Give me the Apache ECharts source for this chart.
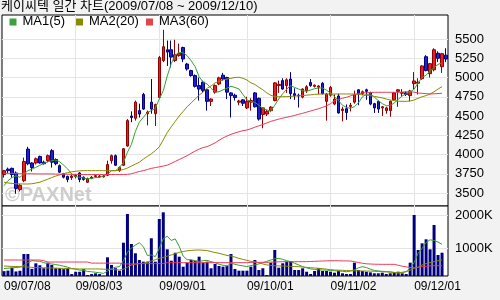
<!DOCTYPE html>
<html><head><meta charset="utf-8">
<script src="https://cdn.jsdelivr.net/npm/echarts@6/dist/echarts.min.js"></script>
<style>html,body{margin:0;padding:0;background:#f2f2f2}#c{width:500px;height:300px}</style>
</head><body><div id="c"></div>
<script>
const dates = [
'09/07/08','09/07/09','09/07/10','09/07/13','09/07/14','09/07/15','09/07/16','09/07/17','09/07/20','09/07/21','09/07/22','09/07/23','09/07/24','09/07/27','09/07/28','09/07/29','09/07/30','09/07/31',
'09/08/03','09/08/04','09/08/05','09/08/06','09/08/07','09/08/10','09/08/11','09/08/12','09/08/13','09/08/14','09/08/17','09/08/18','09/08/19','09/08/20','09/08/21','09/08/24','09/08/25','09/08/26','09/08/27','09/08/28','09/08/31',
'09/09/01','09/09/02','09/09/03','09/09/04','09/09/07','09/09/08','09/09/09','09/09/10','09/09/11','09/09/14','09/09/15','09/09/16','09/09/17','09/09/18','09/09/21','09/09/22','09/09/23','09/09/24','09/09/25','09/09/28','09/09/29','09/09/30',
'09/10/01','09/10/05','09/10/06','09/10/07','09/10/08','09/10/09','09/10/12','09/10/13','09/10/14','09/10/15','09/10/16','09/10/19','09/10/20','09/10/21','09/10/22','09/10/23','09/10/26','09/10/27','09/10/28','09/10/29','09/10/30',
'09/11/02','09/11/03','09/11/04','09/11/05','09/11/06','09/11/09','09/11/10','09/11/11','09/11/12','09/11/13','09/11/16','09/11/17','09/11/18','09/11/19','09/11/20','09/11/23','09/11/24','09/11/25','09/11/26','09/11/27','09/11/30',
'09/12/01','09/12/02','09/12/03','09/12/04','09/12/07','09/12/08','09/12/09','09/12/10','09/12/11'];

const open = [3740,3810,3820,3760,3545,3660,4070,3890,3890,3975,3900,3920,4050,3935,3855,3750,3715,3700,3715,3760,
3705,3640,3690,3715,3710,3710,3730,3920,3985,3790,3860,4110,4500,4470,4570,4780,4530,4680,4530,4740,
5220,5360,5360,5220,5285,5390,5175,5090,5025,4895,4940,4840,4690,4810,4915,5030,5000,4800,4770,4680,
4710,4605,4680,4800,4730,4520,4525,4570,4700,4895,4960,4895,4980,4790,4770,4745,4830,4935,4885,4875,
4925,4690,4770,4655,4760,4570,4595,4625,4680,4840,4790,4840,4800,4660,4690,4605,4570,4570,4710,4820,
4795,4800,4765,4920,4925,4985,5270,5050,5100,5315,5140,5290];
const close = [3790,3790,3740,3560,3600,3910,3880,3830,3945,3890,3880,3985,3900,3880,3770,3705,3675,3720,3730,3675,
3675,3685,3705,3725,3720,3720,3870,3985,3860,3830,4075,4440,4480,4680,4525,4590,4550,4590,4650,5260,
5400,5330,5265,5295,5315,5240,5110,5025,4885,4850,4830,4690,4720,4895,4995,4980,4810,4765,4740,4695,
4665,4690,4700,4620,4460,4605,4560,4615,4930,4910,4850,4970,4790,4765,4760,4850,4880,4895,4900,4890,
4790,4785,4870,4720,4540,4590,4545,4640,4775,4780,4815,4820,4655,4605,4590,4620,4605,4690,4800,4840,
4805,4780,4825,4955,4940,5150,5090,5180,5360,5250,5310,5240];
const low = [3700,3760,3700,3490,3520,3640,3860,3780,3870,3880,3870,3900,3830,3860,3760,3690,3640,3670,3690,3640,
3660,3630,3680,3700,3700,3700,3720,3880,3850,3775,3850,4100,4420,4440,4480,4580,4380,4530,4370,4720,
5200,5150,5130,5200,5270,5200,5090,5010,4870,4700,4800,4570,4630,4790,4900,4960,4720,4480,4700,4640,
4630,4590,4570,4610,4440,4340,4500,4550,4690,4800,4840,4800,4720,4710,4610,4730,4800,4880,4870,4780,
4780,4440,4750,4640,4530,4430,4450,4560,4660,4640,4770,4710,4640,4540,4540,4500,4530,4490,4700,4620,
4750,4760,4690,4850,4780,4970,5080,5000,5080,5200,5060,5200];
const high = [3800,3830,3830,3780,3620,3960,4100,3900,3960,3985,3920,4000,4070,3950,3870,3760,3725,3740,3745,3770,
3715,3700,3720,3740,3735,3735,3920,4000,4000,3845,4080,4460,4560,4700,4660,4800,4570,4980,4660,5280,
5620,5480,5480,5490,5440,5400,5190,5100,5040,5000,4960,4850,4730,4910,5010,5060,5010,4810,4790,4710,
4720,4750,4730,4810,4740,4610,4580,4630,4940,4960,4990,4990,5070,4860,4790,4860,4900,4980,4910,4900,
4940,4800,4890,4780,4790,4620,4650,4670,4830,4850,4830,4855,4815,4670,4700,4630,4620,4700,4810,4850,
4850,4820,4840,5070,4990,5160,5290,5190,5380,5340,5320,5380];

const ma5 = [3595,3660,3700,3725,3704,3747,3790,3810,3834,3860,3885,3905,3920,3929,3905,3860,3812,3747,3712,3704,
3695,3682,3690,3700,3704,3720,3745,3790,3790,3830,3899,4029,4130,4300,4420,4483,4548,4569,4600,4720,
4829,5020,5180,5290,5327,5320,5283,5218,5140,5010,4940,4916,4860,4810,4815,4840,4860,4886,4870,4851,
4780,4710,4690,4678,4640,4600,4580,4561,4640,4721,4790,4850,4894,4870,4850,4829,4821,4838,4855,4864,
4864,4835,4800,4750,4700,4640,4610,4600,4621,4670,4750,4780,4786,4745,4700,4660,4634,4634,4670,4715,
4760,4786,4808,4850,4930,5000,5030,5085,5130,5170,5190];
const ma20 = [3640,3630,3625,3620,3618,3617,3617,3620,3630,3640,3660,3680,3700,3720,3735,3750,3765,3775,3782,3788,
3790,3790,3790,3790,3790,3790,3790,3790,3790,3795,3805,3825,3850,3875,3900,3940,3975,4010,4050,4100,
4190,4285,4360,4430,4500,4560,4620,4670,4720,4770,4810,4860,4890,4930,4950,4968,4980,4990,5000,5003,
4990,4968,4930,4910,4873,4840,4800,4770,4751,4751,4751,4752,4755,4758,4762,4765,4770,4775,4780,4785,
4786,4786,4786,4786,4786,4786,4786,4786,4784,4780,4775,4770,4764,4755,4745,4735,4720,4708,4700,4692,
4690,4690,4695,4708,4730,4750,4765,4786,4815,4850,4881];
const ma60 = [3755,3755,3755,3752,3750,3750,3750,3750,3748,3748,3748,3748,3748,3746,3745,3745,3744,3743,3742,3742,
3740,3740,3740,3740,3740,3740,3740,3740,3740,3740,3740,3742,3750,3765,3780,3790,3805,3820,3830,3840,
3850,3862,3885,3910,3935,3960,3985,4015,4045,4070,4090,4102,4125,4150,4185,4215,4240,4262,4280,4295,
4310,4318,4335,4355,4372,4390,4410,4430,4445,4460,4472,4483,4495,4508,4522,4535,4550,4565,4580,4595,
4612,4632,4660,4700,4715,4730,4743,4760,4780,4790,4798,4802,4805,4808,4808,4808,4808,4808,4808,4808,
4810,4815,4816,4810,4798,4795,4790,4786,4788,4792,4795];

// volume in thousands of shares
const volume = [300,315,405,290,310,825,825,370,540,480,390,560,490,390,390,360,390,210,280,280,
360,180,210,233,210,160,724,490,390,313,1172,2052,1132,847,641,590,590,1307,590,1899,
2104,969,620,865,743,436,559,641,620,743,559,590,387,518,457,436,467,825,366,313,
313,313,436,641,334,387,181,559,948,405,540,590,610,334,334,387,282,212,304,387,
304,304,282,251,313,233,212,212,559,334,304,282,262,233,233,251,212,233,251,282,
233,212,559,2021,948,1153,1276,969,1714,795,865];
const volMa5 = [380,390,400,410,420,480,560,620,610,600,560,530,520,500,480,450,420,380,360,330,
320,290,280,265,250,230,300,380,420,440,620,880,1010,1100,1170,1050,780,795,744,995,
1300,1370,1240,1290,1060,760,650,650,610,600,620,630,590,560,510,480,455,540,510,480,
460,440,470,490,520,560,600,640,680,690,660,620,590,540,490,440,400,370,350,340,
334,330,320,313,305,295,282,300,340,400,436,410,360,320,304,295,285,280,260,240,
250,290,390,560,850,1000,1180,1260,1240,1190,1120];
const volMa20 = [457,450,445,440,436,430,425,415,408,405,402,398,394,390,387,383,378,373,369,366,
366,366,366,366,366,360,356,350,342,334,360,420,488,510,530,540,570,610,650,692,
720,760,795,830,875,900,925,935,945,948,940,930,900,870,847,815,780,765,730,690,
660,630,600,590,550,520,490,475,465,460,457,450,445,440,436,425,415,405,395,387,
375,360,345,334,330,325,318,313,310,308,305,304,300,295,290,282,275,265,255,251,
265,282,330,387,420,488,530,560,590,620,641];
const volMa60 = [641,641,641,641,641,641,641,641,641,641,620,579,579,579,579,579,579,579,579,579,
579,579,545,545,545,545,545,545,545,545,520,520,520,520,530,530,530,530,530,530,
530,559,559,559,559,559,559,559,559,559,559,559,559,559,559,559,559,559,559,559,
559,559,569,569,569,569,569,575,580,585,590,590,590,590,590,590,592,595,600,605,
610,615,620,620,618,615,612,610,590,565,540,525,518,512,510,508,508,508,508,480,
450,430,410,405,420,436,450,460,467,467,467];

const priceTicks = {min: 3500, max: 5500, step: 250};
const volTicks = {min: 1000, max: 2000, step: 1000};
const monthStarts = ['09/07/08','09/08/03','09/09/01','09/10/01','09/11/02','09/12/01'];
const seriesNames = ['MA1(5)','MA2(20)','MA3(60)'];

// ---- layout & style ----
const FONT = "'Liberation Sans', Arial, sans-serif";
const NARROW = "'Liberation Sans Narrow', 'Liberation Sans', Arial, sans-serif";
const TITLE_FONT = "'Liberation Sans', 'Noto Sans CJK KR', sans-serif";
const lineColors = ['#33a033', '#8a8a00', '#ee3a58'];
const legendColors = ['#3da03d', '#8a8a00', '#e44444'];
const legendX = [9.5, 76, 146];
const GRID_LINE = '#e4e4e4';
const L = 2, W = 446;
const PT = 15, PH = 191;
const VT = 206, VH = 70;
const pLabTop = 39, pLabH = 154;
const vLabTop = 215.7, vLabH = 32.6;
const band = W / dates.length;
const pPerPx = (priceTicks.max - priceTicks.min) / pLabH;
const pMax = priceTicks.max + (pLabTop - PT) * pPerPx;
const pMin = priceTicks.min - ((PT + PH) - (pLabTop + pLabH)) * pPerPx;
const vPerPx = (volTicks.max - volTicks.min) / vLabH;
const vMax = volTicks.max + (vLabTop - VT) * vPerPx;
const vMin = volTicks.min - ((VT + VH) - (vLabTop + vLabH)) * vPerPx;

const candles = dates.map((d, i) => [open[i], close[i], low[i], high[i]]);
const priceMAs = [ma5, ma20, ma60];
const volMAs = [volMa5, volMa20, volMa60];

const hiddenX = g => ({type: 'category', gridIndex: g, data: dates, boundaryGap: true, show: false});
const series = [{
  type: 'candlestick', name: 'price', xAxisIndex: 0, yAxisIndex: 0, data: candles, barWidth: 3,
  itemStyle: {color: '#e82020', color0: '#2020d0', borderColor: '#900000', borderColor0: '#000080', borderWidth: 1}
}];
priceMAs.forEach((arr, k) => series.push({
  type: 'line', name: seriesNames[k], xAxisIndex: 0, yAxisIndex: 0, data: arr, symbol: 'none',
  lineStyle: {width: 1, color: lineColors[k]}, itemStyle: {color: lineColors[k]}
}));
series.push({type: 'bar', name: 'volume', xAxisIndex: 2, yAxisIndex: 2, data: volume, barWidth: 3,
  itemStyle: {color: '#000080'}});
volMAs.forEach((arr, k) => series.push({
  type: 'line', name: seriesNames[k], xAxisIndex: 2, yAxisIndex: 2, data: arr, symbol: 'none',
  lineStyle: {width: 1, color: lineColors[k]}, itemStyle: {color: lineColors[k]}
}));

// legend keys drawn as graphic elements (square swatch + label)
const legendEls = [];
seriesNames.forEach((n, k) => {
  legendEls.push({type: 'rect', left: legendX[k], top: 18.5, z: 5, silent: true,
    shape: {width: 7, height: 7}, style: {fill: legendColors[k]}});
  legendEls.push({type: 'text', left: legendX[k] + 13, top: 14.5, z: 5, silent: true,
    style: {text: n, font: '13px ' + FONT, fill: '#000'}});
});

const chart = echarts.init(document.getElementById('c'), null, {renderer: 'canvas'});
chart.setOption({
  animation: false,
  backgroundColor: '#f2f2f2',
  title: {text: '케이씨텍 일간 차트(2009/07/08 ~ 2009/12/10)', left: 1, top: 0, padding: 0,
    textStyle: {fontSize: 13, fontWeight: 'normal', color: '#000', fontFamily: TITLE_FONT}},
  grid: [
    {left: L, top: PT, width: W, height: PH, show: true, backgroundColor: '#fff', borderColor: '#000', borderWidth: 1},
    {left: L, top: pLabTop, width: W, height: pLabH},
    {left: L, top: VT, width: W, height: VH, show: true, backgroundColor: '#fff', borderColor: '#000', borderWidth: 1},
    {left: L, top: vLabTop, width: W, height: vLabH},
    {left: L + band / 2, top: PT, width: W - band, height: PH + VH}
  ],
  xAxis: [hiddenX(0), hiddenX(1), hiddenX(2), hiddenX(3), {
    type: 'category', gridIndex: 4, data: dates, boundaryGap: false,
    axisLine: {show: false}, axisTick: {show: false},
    axisLabel: {interval: (i, v) => monthStarts.includes(v), align: 'left', margin: 5,
      fontSize: 12, color: '#000', fontFamily: FONT},
    splitLine: {show: true, interval: (i, v) => i > 0 && monthStarts.includes(v),
      lineStyle: {color: GRID_LINE, width: 1}}
  }],
  yAxis: [
    {type: 'value', gridIndex: 0, min: pMin, max: pMax, show: false},
    {type: 'value', gridIndex: 1, min: priceTicks.min, max: priceTicks.max, interval: priceTicks.step,
      position: 'right', axisLine: {show: false}, axisTick: {show: false},
      axisLabel: {margin: 7, fontSize: 13, color: '#000', fontFamily: NARROW, formatter: v => String(v)},
      splitLine: {show: true, lineStyle: {color: GRID_LINE, width: 1}}},
    {type: 'value', gridIndex: 2, min: vMin, max: vMax, show: false},
    {type: 'value', gridIndex: 3, min: volTicks.min, max: volTicks.max, interval: volTicks.step,
      position: 'right', axisLine: {show: false}, axisTick: {show: false},
      axisLabel: {margin: 7, fontSize: 13, color: '#000', fontFamily: NARROW, formatter: v => String(v) + 'K'},
      splitLine: {show: true, lineStyle: {color: GRID_LINE, width: 1}}},
    {type: 'value', gridIndex: 4, show: false}
  ],
  graphic: {elements: [{type: 'text', left: 5, top: 185, z: 1, silent: true,
    style: {text: '©PAXNet', font: 'bold 20px "Liberation Sans", Arial, sans-serif', fill: '#cdcdcd'}}].concat(legendEls)},
  series: series
});
</script></body></html>
